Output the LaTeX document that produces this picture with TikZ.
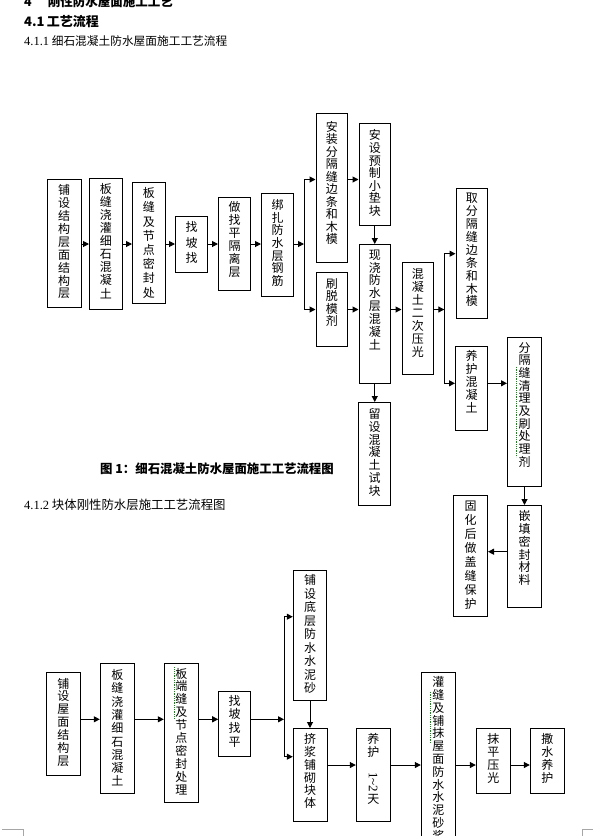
\documentclass[tikz,border=0pt]{standalone}
\usepackage{fontspec}
\setmainfont{Noto Sans CJK SC}
\newfontfamily\latinser{Liberation Serif}
\usepackage{graphicx}
\usetikzlibrary{arrows.meta,fit}
\newcommand\vt[1]{\vtA#1\vtEnd}
\def\vtA#1#2\vtEnd{#1\if\relax\detokenize{#2}\relax\else\\\vtA#2\vtEnd\fi}
\tikzset{
  box/.style={draw, line width=1pt, inner sep=0pt},
  vtxt/.style={anchor=north, inner sep=0pt, align=center, font=\fontsize{12}{12.9}\selectfont},
  arr/.style={-{Triangle[length=6pt,width=6pt]}, line width=1pt},
  ln/.style={line width=1pt},
  gdot/.style={draw=green!60!black, densely dotted, line width=0.8pt},
  hd/.style={anchor=base west, inner sep=0pt},
  corner/.style={draw=black!35, line width=1pt}
}
\begin{document}
\begin{tikzpicture}[x=1pt,y=-1pt]
\useasboundingbox (0,0) rectangle (593,836);
\clip (0,0) rectangle (593,836);
\fill[white] (0,0) rectangle (593,836);

% headings
\node[hd, font=\bfseries\fontsize{12.5}{12.5}\selectfont] (h1) at (24,6.5) {4\hspace{16pt}刚性防水屋面施工工艺};
\node[hd, font=\bfseries\fontsize{13}{13}\selectfont] (h2) at (24,26) {4.1\,工艺流程};
\node[hd, font=\fontsize{11.7}{11.7}\selectfont] (h3) at (24,45) {{\latinser\fontsize{12.5}{12.5}\selectfont 4.1.1} 细石混凝土防水屋面施工工艺流程};
\node[hd, font=\bfseries\fontsize{12.4}{12.4}\selectfont] (cap) at (100,473) {图 1：细石混凝土防水屋面施工工艺流程图};
\node[hd, font=\fontsize{12.4}{12.4}\selectfont] (h4) at (24,509) {{\latinser\fontsize{12.5}{12.5}\selectfont 4.1.2} 块体刚性防水层施工工艺流程图};

% ---------- flow 1 boxes ----------
\node[box, fit={(47,179.5)(81,307.5)}] (A) {};
\node[vtxt] at ([yshift=-5.5pt]A.north) {\vt{铺设结构层面结构层}};
\node[box, fit={(89.5,178.5)(122,309.5)}] (B) {};
\node[vtxt, font=\fontsize{12}{13.1}\selectfont] at ([yshift=-5pt]B.north) {\vt{板缝浇灌细石混凝土}};
\node[box, fit={(132.5,182)(165,303.5)}] (C) {};
\node[vtxt, font=\fontsize{12}{14.2}\selectfont] at ([yshift=-6pt]C.north) {\vt{板缝及节点密封处}};
\node[box, fit={(175.5,216.5)(207.5,272.5)}] (D) {};
\node[vtxt, font=\fontsize{12}{15.6}\selectfont] at ([yshift=-5.5pt]D.north) {\vt{找坡找}};
\node[box, fit={(218.5,197.5)(250.5,290.5)}] (E) {};
\node[vtxt, font=\fontsize{12}{13}\selectfont] at ([yshift=-4.5pt]E.north) {\vt{做找平隔离层}};
\node[box, fit={(261.5,193.5)(293.5,296)}] (F) {};
\node[vtxt, font=\fontsize{12}{12.6}\selectfont] at ([yshift=-6.5pt]F.north) {\vt{绑扎防水层钢筋}};
\node[box, fit={(316,113.5)(347.5,262.5)}] (G) {};
\node[vtxt, font=\fontsize{12}{12.5}\selectfont] at ([yshift=-8pt]G.north) {\vt{安装分隔缝边条和木模}};
\node[box, fit={(316,272.5)(347.5,346.5)}] (H) {};
\node[vtxt, font=\fontsize{12}{12.5}\selectfont] at ([yshift=-6pt]H.north) {\vt{刷脱模剂}};
\node[box, fit={(359,123.5)(390.5,225.5)}] (I) {};
\node[vtxt, font=\fontsize{12}{12.6}\selectfont] at ([yshift=-6.5pt]I.north) {\vt{安设预制小垫块}};
\node[box, fit={(359,244.5)(390.5,383.5)}] (J) {};
\node[vtxt] at ([yshift=-5.5pt]J.north) {\vt{现浇防水层混凝土}};
\node[box, fit={(358.5,402.5)(390.5,505.5)}] (Q) {};
\node[vtxt] at ([yshift=-6pt]Q.north) {\vt{留设混凝土试块}};
\node[box, fit={(402,262.5)(433.5,374.5)}] (K) {};
\node[vtxt, font=\fontsize{12}{13.1}\selectfont] at ([yshift=-6pt]K.north) {\vt{混凝土二次压光}};
\node[box, fit={(456,188.5)(487.5,318.5)}] (L) {};
\node[vtxt] at ([yshift=-5pt]L.north) {\vt{取分隔缝边条和木模}};
\node[box, fit={(455.5,346.7)(487.5,430)}] (M) {};
\node[vtxt, font=\fontsize{12}{13}\selectfont] at ([yshift=-3.5pt]M.north) {\vt{养护混凝土}};
\node[box, fit={(507.5,337.5)(541.5,486.5)}] (N) {};
\node[vtxt, font=\fontsize{12}{12.7}\selectfont] at ([yshift=-5pt]N.north) {\vt{分隔缝清理及刷处理剂}};
\node[box, fit={(507.5,505.5)(541.5,607.5)}] (O) {};
\node[vtxt] at ([yshift=-5pt]O.north) {\vt{嵌填密封材料}};
\node[box, fit={(453.5,495.5)(487.5,616.5)}] (P) {};
\node[vtxt, font=\fontsize{12}{14}\selectfont] at ([yshift=-6pt]P.north) {\vt{固化后做盖缝保护}};

% ---------- flow 1 connectors ----------
\draw[arr] (A.east|-0,244) -- (B.west|-0,244);
\draw[arr] (B.east|-0,244) -- (C.west|-0,244);
\draw[arr] (C.east|-0,244) -- (D.west|-0,244);
\draw[arr] (D.east|-0,244) -- (E.west|-0,244);
\draw[arr] (E.east|-0,244) -- (F.west|-0,244);
\coordinate (b1t) at (304,179.5);
\coordinate (b1m) at (304,244);
\coordinate (b1b) at (304,309.5);
\draw[arr] (F.east|-b1m) -- (b1m);
\draw[ln] (b1t) -- (b1b);
\draw[arr] (b1t) -- (G.west|-b1t);
\draw[arr] (b1b) -- (H.west|-b1b);
\draw[arr] (G.east|-b1t) -- (I.west|-b1t);
\draw[arr] (I.south) -- (J.north);
\draw[arr] (H.east|-b1b) -- (J.west|-b1b);
\draw[arr] (J.south) -- (J.south|-Q.north);
\draw[arr] (J.east|-b1b) -- (K.west|-b1b);
\coordinate (b2t) at (444.3,253.7);
\coordinate (b2m) at (444.3,309.5);
\coordinate (b2b) at (444.3,383.3);
\draw[arr] (K.east|-b2m) -- (b2m);
\draw[ln] (b2t) -- (b2b);
\draw[arr] (b2t) -- (L.west|-b2t);
\draw[arr] (b2b) -- (M.west|-b2b);
\draw[arr] (M.east|-b2b) -- (N.west|-b2b);
\draw[arr] (N.south) -- (O.north);
\draw[arr] (O.west|-0,551.7) -- (P.east|-0,551.7);

% ---------- flow 2 boxes ----------
\node[box, fit={(46,672.3)(80.7,775)}] (A2) {};
\node[vtxt] at ([yshift=-6pt]A2.north) {\vt{铺设屋面结构层}};
\node[box, fit={(100.3,663.3)(134.3,793.3)}] (B2) {};
\node[vtxt, font=\fontsize{12}{13.3}\selectfont] at ([yshift=-6.5pt]B2.north) {\vt{板缝浇灌细石混凝土}};
\node[box, fit={(164.3,663.3)(198.3,802.7)}] (C2) {};
\node[vtxt] at ([yshift=-5pt]C2.north) {\vt{板端缝及节点密封处理}};
\node[box, fit={(218.7,691.3)(250.7,756)}] (D2) {};
\node[vtxt, font=\fontsize{12}{13.8}\selectfont] at ([yshift=-4pt]D2.north) {\vt{找坡找平}};
\node[box, fit={(293.3,570.7)(326.7,700)}] (E2) {};
\node[vtxt, font=\fontsize{12}{13.5}\selectfont] at ([yshift=-4.5pt]E2.north) {\vt{铺设底层防水水泥砂}};
\node[box, fit={(293.3,728.5)(327,821)}] (F2) {};
\node[vtxt] at ([yshift=-5pt]F2.north) {\vt{挤浆铺砌块体}};
\node[box, fit={(356.3,728.5)(390.3,821)}] (G2) {};
\node[vtxt, font=\fontsize{12}{13.5}\selectfont] at ([yshift=-5pt]G2.north) {养\\护\\[2pt]\rotatebox{-90}{\latinser\fontsize{13}{13}\selectfont 1\textasciitilde2}\\[1pt]天};
\node[box, fit={(421.3,672.3)(455.3,860)}] (H2) {};
\node[vtxt, font=\fontsize{12}{12.8}\selectfont] at ([yshift=-4.5pt]H2.north) {\vt{灌缝及铺抹屋面防水水泥砂浆}};
\node[box, fit={(476.3,728.3)(510.3,793.3)}] (I2) {};
\node[vtxt, font=\fontsize{12}{13.3}\selectfont] at ([yshift=-5pt]I2.north) {\vt{抹平压光}};
\node[box, fit={(530.3,728.3)(564.3,793.3)}] (J2) {};
\node[vtxt, font=\fontsize{12}{13.3}\selectfont] at ([yshift=-5pt]J2.north) {\vt{撒水养护}};

% ---------- flow 2 connectors ----------
\draw[arr] (A2.east|-0,719.3) -- (B2.west|-0,719.3);
\draw[arr] (B2.east|-0,719.3) -- (C2.west|-0,719.3);
\draw[arr] (C2.east|-0,719.3) -- (D2.west|-0,719.3);
\coordinate (b3t) at (284,616.7);
\coordinate (b3m) at (284,719.3);
\coordinate (b3b) at (284,756.7);
\draw[arr] (D2.east|-b3m) -- (b3m);
\draw[ln] (b3t) -- (b3b);
\draw[arr] (b3t) -- (E2.west|-b3t);
\draw[arr] (b3b) -- (F2.west|-b3b);
\draw[arr] (E2.south) -- (E2.south|-F2.north);
\draw[arr] (F2.east|-0,765) -- (G2.west|-0,765);
\draw[arr] (G2.east|-0,765) -- (H2.west|-0,765);
\draw[arr] (H2.east|-0,765) -- (I2.west|-0,765);
\draw[arr] (I2.east|-0,765) -- (J2.west|-0,765);

% green proofing marks
\draw[gdot] (516.7,366.7) -- (516.7,456.7);
\draw[gdot] (174,667.3) -- (174,718.3);
\draw[gdot] (430.7,691.7) -- (430.7,742.7);

% page corner marks
\draw[corner] (2,829.3) -- (23.3,829.3) -- (23.3,836);
\draw[corner] (593,829.3) -- (582.7,829.3) -- (582.7,836);
\end{tikzpicture}
\end{document}
